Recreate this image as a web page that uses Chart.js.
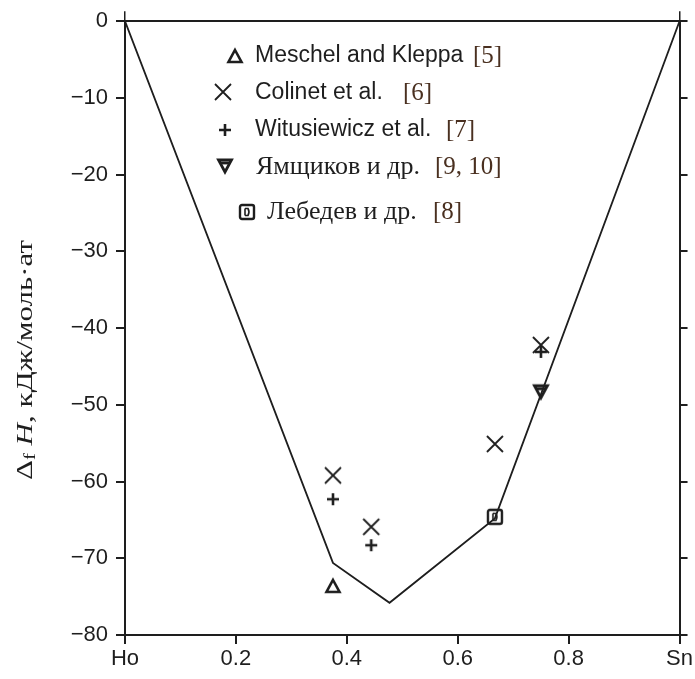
<!DOCTYPE html>
<html><head><meta charset="utf-8">
<script src="https://cdn.jsdelivr.net/npm/chart.js@4/dist/chart.umd.min.js"></script>
<style>html,body{margin:0;padding:0;background:#fff;}#wrap{width:695px;height:679px;}</style>
</head><body><div id="wrap"><canvas id="c" width="695" height="679"></canvas></div>
<script>
// ---- data ----
const curveX = [0, 0.375, 0.477, 0.667, 1];
const curveY = [0, -70.6, -75.8, -64.8, 0];
const meschelX = [0.375];
const meschelY = [-73.6];
const colinetX = [0.375, 0.444, 0.667, 0.75];
const colinetY = [-59.2, -65.9, -55.1, -42.2];
const witusX = [0.375, 0.444, 0.75];
const witusY = [-62.3, -68.3, -43.1];
const yamX = [0.75];
const yamY = [-48.3];
const lebX = [0.667];
const lebY = [-64.6];
const xTickValues = [0, 0.2, 0.4, 0.6, 0.8, 1];
const xTickLabels = ['Ho', '0.2', '0.4', '0.6', '0.8', 'Sn'];
const yTickValues = [0, -10, -20, -30, -40, -50, -60, -70, -80];
const legendNames = ['Meschel and Kleppa', 'Colinet et al.', 'Witusiewicz et al.', 'Ямщиков и др.', 'Лебедев и др.'];
const legendRefs = ['[5]', '[6]', '[7]', '[9, 10]', '[8]'];

const INK = '#1e1e1e';
const SANS = "'Liberation Sans', Arial, sans-serif";
const SERIF = "'Liberation Serif', 'Times New Roman', serif";

function pts(xs, ys) { return xs.map((x, i) => ({x: x, y: ys[i]})); }

function mk(w, h, fn) {
  const c = document.createElement('canvas');
  c.width = w; c.height = h;
  const g = c.getContext('2d');
  g.strokeStyle = INK; g.fillStyle = '#fff'; g.lineJoin = 'miter'; g.lineCap = 'butt';
  fn(g);
  return c;
}
const mTri = mk(18, 18, g => { g.lineWidth = 2.6; g.beginPath(); g.moveTo(9, 3); g.lineTo(15.5, 15); g.lineTo(2.5, 15); g.closePath(); g.fill(); g.stroke(); });
const mX = mk(20, 20, g => { g.lineWidth = 1.8; g.beginPath(); g.moveTo(2, 2); g.lineTo(18, 18); g.moveTo(18, 2); g.lineTo(2, 18); g.stroke(); });
const mPlus = mk(16, 16, g => { g.lineWidth = 2.6; g.beginPath(); g.moveTo(2, 8); g.lineTo(14, 8); g.moveTo(8, 2); g.lineTo(8, 14); g.stroke(); });
const mTriDown = mk(18, 18, g => { g.lineWidth = 2.8; g.beginPath(); g.moveTo(2.5, 3); g.lineTo(15.5, 3); g.lineTo(9, 15); g.closePath(); g.fill(); g.stroke(); g.beginPath(); g.moveTo(5,6); g.lineTo(13,6); g.stroke(); });
const mSq = mk(20, 20, g => { g.lineWidth = 2.4; g.beginPath(); g.roundRect ? g.roundRect(3, 3, 14, 14, 2) : g.rect(3, 3, 14, 14); g.fill(); g.stroke(); g.lineWidth = 1.6; g.beginPath(); g.moveTo(8, 6.5); g.lineTo(11, 6.5); g.quadraticCurveTo(13, 10, 11, 13.5); g.lineTo(8, 13.5); g.moveTo(8,6.5); g.lineTo(8,13.5); g.stroke(); });
const legendMarks = [mTri, mX, mPlus, mTriDown, mSq];

const legendPlugin = {
  id: 'customLegend',
  afterDraw(chart) {
    const ctx = chart.ctx;
    ctx.save();
    const rows = [
      {mx: 235, my: 56, tx: 255, ty: 56, rx: 473, font: '23px ' + SANS},
      {mx: 223, my: 92, tx: 255, ty: 93, rx: 403, font: '23px ' + SANS},
      {mx: 225, my: 130, tx: 255, ty: 130, rx: 446, font: '23px ' + SANS},
      {mx: 225, my: 166, tx: 256, ty: 167, rx: 435, font: '26px ' + SERIF},
      {mx: 247, my: 212, tx: 267, ty: 212, rx: 433, font: '26px ' + SERIF}
    ];
    rows.forEach((r, i) => {
      const m = legendMarks[i];
      ctx.drawImage(m, r.mx - m.width / 2, r.my - m.height / 2);
      ctx.textBaseline = 'middle';
      ctx.textAlign = 'left';
      ctx.fillStyle = INK;
      ctx.font = r.font;
      ctx.fillText(legendNames[i], r.tx, r.ty);
      ctx.font = '25px ' + SERIF;
      ctx.fillStyle = '#4a3020';
      ctx.fillText(legendRefs[i], r.rx, r.ty);
    });
    ctx.restore();
    // y-axis title
    ctx.save();
    ctx.translate(26, 360);
    ctx.rotate(-Math.PI / 2);
    const parts = [
      {t: 'Δ', f: '24px ' + SERIF, dy: 0},
      {t: 'f', f: '16px ' + SERIF, dy: 5},
      {t: ' ', f: '24px ' + SERIF, dy: 0},
      {t: 'H', f: 'italic 24px ' + SERIF, dy: 0},
      {t: ', кДж/моль·ат', f: '24px ' + SERIF, dy: 0}
    ];
    let total = 0;
    parts.forEach(p => { ctx.font = p.f; p.w = ctx.measureText(p.t).width; total += p.w; });
    const sx = 240 / total;
    ctx.scale(sx, 1);
    let x = -total / 2;
    ctx.fillStyle = INK;
    ctx.textBaseline = 'middle';
    ctx.textAlign = 'left';
    parts.forEach(p => { ctx.font = p.f; ctx.fillText(p.t, x, p.dy); x += p.w; });
    ctx.restore();
  }
};

const edgeTick = ctx => (ctx.tick && (ctx.tick.value === 0 || ctx.tick.value === 1)) ? INK : 'rgba(0,0,0,0)';

new Chart(document.getElementById('c'), {
  type: 'scatter',
  data: {
    datasets: [
      {label: 'curve', data: pts(curveX, curveY), showLine: true, borderColor: INK, borderWidth: 1.8, pointRadius: 0, fill: false, tension: 0},
      {label: legendNames[0], data: pts(meschelX, meschelY), pointStyle: mTri},
      {label: legendNames[1], data: pts(colinetX, colinetY), pointStyle: mX},
      {label: legendNames[2], data: pts(witusX, witusY), pointStyle: mPlus},
      {label: legendNames[3], data: pts(yamX, yamY), pointStyle: mTriDown},
      {label: legendNames[4], data: pts(lebX, lebY), pointStyle: mSq}
    ]
  },
  options: {
    responsive: false,
    animation: false,
    devicePixelRatio: 1,
    layout: {padding: 0},
    plugins: {legend: {display: false}, tooltip: {enabled: false}},
    scales: {
      x: {
        type: 'linear', position: 'bottom', min: 0, max: 1,
        afterBuildTicks: s => { s.ticks = xTickValues.map(v => ({value: v})); },
        afterFit: s => { s.height = 44; },
        ticks: {
          callback: v => { const i = xTickValues.indexOf(v); return i >= 0 ? xTickLabels[i] : ''; },
          color: INK, font: {family: SANS, size: 22}, padding: 2, maxRotation: 0, autoSkip: false
        },
        grid: {drawOnChartArea: false, drawTicks: true, tickLength: 9, color: INK, lineWidth: 2},
        border: {display: true, color: INK, width: 2}
      },
      x2: {
        type: 'linear', position: 'top', min: 0, max: 1,
        afterBuildTicks: s => { s.ticks = xTickValues.map(v => ({value: v})); },
        afterFit: s => { s.height = 21; },
        ticks: {display: false},
        grid: {drawOnChartArea: false, drawTicks: true, tickLength: 10, color: edgeTick, lineWidth: 1.5},
        border: {display: true, color: INK, width: 2}
      },
      y: {
        type: 'linear', position: 'left', min: -80, max: 0,
        afterBuildTicks: s => { s.ticks = yTickValues.map(v => ({value: v})); },
        afterFit: s => { s.width = 125; },
        ticks: {
          callback: v => (v < 0 ? '\u2212' + Math.abs(v) : String(v)),
          color: INK, font: {family: SANS, size: 22}, padding: 8
        },
        grid: {drawOnChartArea: false, drawTicks: true, tickLength: 9, color: INK, lineWidth: 2},
        border: {display: true, color: INK, width: 2}
      },
      y2: {
        type: 'linear', position: 'right', min: -80, max: 0,
        afterBuildTicks: s => { s.ticks = yTickValues.map(v => ({value: v})); },
        afterFit: s => { s.width = 15; },
        ticks: {display: false},
        grid: {drawOnChartArea: false, drawTicks: true, tickLength: 8, color: INK, lineWidth: 2},
        border: {display: true, color: INK, width: 2}
      }
    }
  },
  plugins: [legendPlugin]
});
</script>
</body></html>
